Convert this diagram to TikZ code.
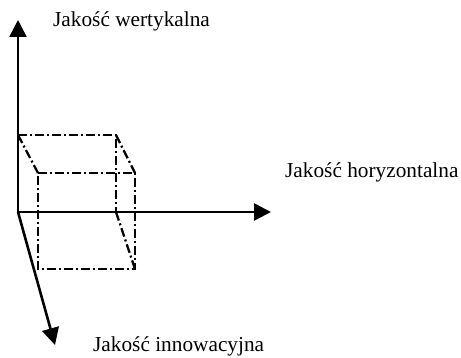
\documentclass[tikz,border=0pt]{standalone}
\usepackage{fontspec}
\setmainfont{Liberation Serif}
\usetikzlibrary{arrows.meta}

\begin{document}
\begin{tikzpicture}[x=1pt,y=-1pt]
\tikzset{axis/.style={line width=2.6pt,-{Triangle[length=17pt,width=17pt]}},
  edge/.style={line width=2.3pt,dash pattern=on 9pt off 3pt on 2pt off 3pt},
  axislabel/.style={anchor=base west,inner sep=0pt,font=\fontsize{21.3}{25}\selectfont}}
\useasboundingbox (0,0) rectangle (461,358);
% axes
\coordinate (o) at (18,212);
\coordinate (vtip) at (18,20);
\coordinate (htip) at (271,212);
\coordinate (itip) at (55,345);
\draw [axis] (o) -- (vtip);
\draw [axis] (o) -- (htip);
\draw [axis] (o) -- (itip);
\node [axislabel] (vlab) at (53,27) {Jakość wertykalna};
\node [axislabel] (hlab) at (285,178) {Jakość horyzontalna};
\node [axislabel] (ilab) at (93,352) {Jakość innowacyjna};
% cube
\coordinate (btl) at (18,135);
\coordinate (btr) at (116,135);
\coordinate (bbr) at (116,212);
\coordinate (ftl) at (38,173);
\coordinate (ftr) at (135,173);
\coordinate (fbl) at (38,269);
\coordinate (fbr) at (135,269);
\draw [edge] (btl) -- (btr) -- (bbr);
\draw [edge] (btl) -- (ftl);
\draw [edge] (btr) -- (ftr);
\draw [edge] (bbr) -- (fbr);
\draw [edge] (ftl) -- (ftr) -- (fbr) -- (fbl) -- cycle;
\end{tikzpicture}
\end{document}
